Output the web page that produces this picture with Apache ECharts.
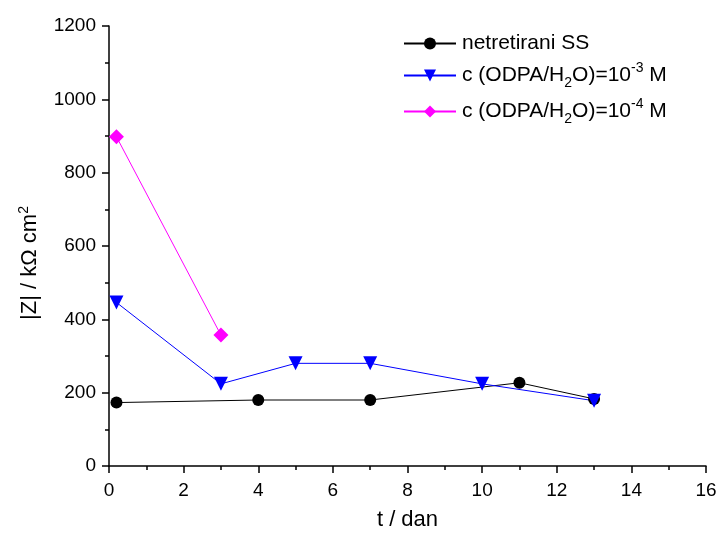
<!DOCTYPE html>
<html><head><meta charset="utf-8">
<script src="https://cdn.jsdelivr.net/npm/echarts@6/dist/echarts.min.js"></script>
<style>html,body{margin:0;padding:0;background:#fff}#c{width:716px;height:533px}</style>
</head><body><div id="c"></div>
<script>
const seriesNames = ['netretirani SS', 'c (ODPA/H2O)=10-3 M', 'c (ODPA/H2O)=10-4 M'];
const tSS = [0.2, 4, 7, 11, 13];
const zSS = [173, 180, 180, 227, 183];
const t3 = [0.2, 3, 5, 7, 10, 13];
const z3 = [446, 224, 280, 280, 224, 178];
const t4 = [0.2, 3];
const z4 = [898, 357];
const xTicks = [0, 16, 2];
const yTicks = [0, 1200, 200];

const font = 'Liberation Sans, Arial, sans-serif';
const pair = (xs, ys) => xs.map((x, i) => [x, ys[i]]);
const chart = echarts.init(document.getElementById('c'));
chart.setOption({
  animation: false,
  grid: {left: 109, right: 10, top: 26, bottom: 67, containLabel: false, outerBoundsMode: 'none'},
  legend: {
    left: 398, top: 28, orient: 'vertical', itemGap: 7, itemWidth: 52, itemHeight: 15,
    data: seriesNames,
    formatter: n => {
      if (n === seriesNames[0]) return '{a|netretirani SS}';
      const p = n === seriesNames[1] ? '-3' : '-4';
      return '{a|c (ODPA/H}{sub|2}{a|O)=10}{sup|' + p + '}{a| M}';
    },
    textStyle: {
      fontFamily: font, color: '#000', padding: [0, 0, 0, 1],
      rich: {
        a: {fontFamily: font, fontSize: 21, color: '#000', height: 27},
        sub: {fontFamily: font, fontSize: 14, color: '#000', verticalAlign: 'bottom', padding: [15, 0, 0, 0]},
        sup: {fontFamily: font, fontSize: 14, color: '#000', verticalAlign: 'top', padding: [0, 0, 12, 0]}
      }
    }
  },
  xAxis: {
    type: 'value', min: xTicks[0], max: xTicks[1], interval: xTicks[2],
    name: 't / dan', nameLocation: 'middle', nameGap: 43,
    nameTextStyle: {fontFamily: font, fontSize: 22, color: '#000'},
    axisLine: {show: true, lineStyle: {color: '#000', width: 1.5}},
    axisTick: {show: true, inside: false, length: 7, lineStyle: {color: '#000', width: 1.5}},
    minorTick: {show: true, splitNumber: 2, length: 4, lineStyle: {color: '#000', width: 1.5}},
    axisLabel: {fontFamily: font, fontSize: 19, color: '#000', margin: 15},
    splitLine: {show: false}
  },
  yAxis: {
    type: 'value', min: yTicks[0], max: yTicks[1], interval: yTicks[2],
    name: '{a||Z| / kΩ cm}{sup|2}', nameLocation: 'middle', nameGap: 67, nameRotate: 90,
    nameTextStyle: {fontFamily: font, fontSize: 22, color: '#000', padding: [0, 34, 0, 0],
      rich: {
        a: {fontFamily: font, fontSize: 22, color: '#000'},
        sup: {fontFamily: font, fontSize: 14, color: '#000', verticalAlign: 'top', padding: [0, 0, 11, 0]}
      }},
    axisLine: {show: true, lineStyle: {color: '#000', width: 1.5}},
    axisTick: {show: true, inside: false, length: 7, lineStyle: {color: '#000', width: 1.5}},
    minorTick: {show: true, splitNumber: 2, length: 4, lineStyle: {color: '#000', width: 1.5}},
    axisLabel: {fontFamily: font, fontSize: 19, color: '#000', margin: 13, formatter: v => String(v)},
    splitLine: {show: false}
  },
  series: [
    {name: seriesNames[0], type: 'line', data: pair(tSS, zSS), symbol: 'circle', symbolSize: 12,
     lineStyle: {color: '#000', width: 1}, itemStyle: {color: '#000'}},
    {name: seriesNames[1], type: 'line', data: pair(t3, z3), symbol: 'triangle', symbolRotate: 180, symbolSize: 14,
     lineStyle: {color: '#0000ff', width: 1}, itemStyle: {color: '#0000ff'}},
    {name: seriesNames[2], type: 'line', data: pair(t4, z4), symbol: 'diamond', symbolSize: 15,
     lineStyle: {color: '#ff00ff', width: 1}, itemStyle: {color: '#ff00ff'}}
  ]
});
</script></body></html>
